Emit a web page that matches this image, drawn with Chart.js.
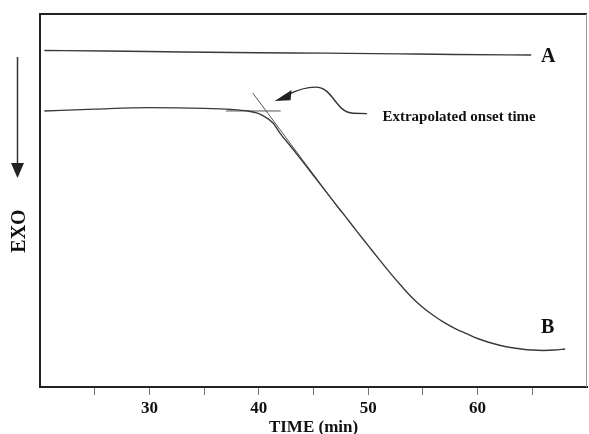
<!DOCTYPE html>
<html lang="en">

<head>
    <meta charset="UTF-8">
    <title>DSC onset</title>
    <style>
        body { margin: 0; background: #fff; }
        .container { width: 589px; height: 434px; }
    </style>
</head>

<body>
    <div class="container">
        <canvas id="dsc-chart" width="589" height="434"></canvas>
    </div>

    <script src="https://cdn.jsdelivr.net/npm/chart.js"></script>
    <script>
        // time (min) and signal (arbitrary units, 0 = bottom, 100 = top)
        var timeA = [20.4, 26, 33, 40, 46, 52.8, 58, 64.9];
        var signalA = [90.2, 90.1, 89.8, 89.6, 89.5, 89.3, 89.15, 89.0];

        var timeB = [20.4, 25, 30, 35, 37.5, 39, 39.8, 40.4, 41.3, 42, 43, 44, 45, 46, 47, 48, 49, 50, 51, 52, 53, 54, 55, 56, 57, 58, 59, 60, 61, 62, 63, 64, 65, 66, 67, 68];
        var signalB = [74.0, 74.5, 74.9, 74.7, 74.4, 74.0, 73.5, 72.7, 70.8, 67.8, 64.2, 60.5, 56.7, 52.9, 49.1, 45.4, 41.6, 37.9, 34.2, 30.6, 27.2, 24.0, 21.3, 19.1, 17.2, 15.6, 14.3, 13.0, 12.0, 11.2, 10.6, 10.2, 9.9, 9.8, 9.9, 10.2];

        // construction lines for the onset
        var tangentTime = [39.45, 47.5];
        var tangentSignal = [78.8, 47.1];
        var baselineTime = [37.0, 42.0];
        var baselineSignal = [74.0, 74.0];

        var tickValues = [25, 30, 35, 40, 45, 50, 55, 60, 65];
        var tickLabels = [30, 40, 50, 60];

        function toPoints(xs, ys) {
            return xs.map(function (x, i) { return { x: x, y: ys[i] }; });
        }

        var serif = "'Liberation Serif', 'DejaVu Serif', serif";

        // frame, labels, arrows
        var decorations = {
            id: 'decorations',
            afterDraw: function (chart) {
                var ctx = chart.ctx;
                var area = chart.chartArea;
                var xs = chart.scales.x;
                var ys = chart.scales.y;
                function px(t) { return xs.getPixelForValue(t); }
                function py(v) { return ys.getPixelForValue(v); }

                ctx.save();
                // top and right of the box
                ctx.strokeStyle = '#222';
                ctx.lineWidth = 2;
                ctx.beginPath();
                ctx.moveTo(area.left, area.top);
                ctx.lineTo(area.right, area.top);
                ctx.stroke();
                ctx.strokeStyle = '#999';
                ctx.lineWidth = 1;
                ctx.beginPath();
                ctx.moveTo(area.right - 0.5, area.top);
                ctx.lineTo(area.right - 0.5, area.bottom);
                ctx.stroke();

                ctx.fillStyle = '#111';
                ctx.font = 'bold 20px ' + serif;
                ctx.textAlign = 'left';
                ctx.textBaseline = 'alphabetic';
                ctx.fillText('A', px(65.8), py(87.1));
                ctx.fillText('B', px(65.8), py(14.5));

                ctx.font = 'bold 15px ' + serif;
                ctx.fillText('Extrapolated onset time', px(51.3), py(71.3));

                // curved pointer to the onset
                ctx.strokeStyle = '#333';
                ctx.lineWidth = 1.4;
                ctx.beginPath();
                ctx.moveTo(px(49.9), py(73.3));
                ctx.lineTo(px(48.6), py(73.4));
                ctx.bezierCurveTo(px(47.0), py(73.6), px(46.8), py(80.4), px(45.2), py(80.4));
                ctx.quadraticCurveTo(px(44.0), py(80.4), px(42.7), py(78.4));
                ctx.stroke();
                ctx.fillStyle = '#222';
                ctx.beginPath();
                ctx.moveTo(px(41.45), py(76.7));
                ctx.lineTo(px(43.0), py(79.6));
                ctx.lineTo(px(42.9), py(76.9));
                ctx.closePath();
                ctx.fill();

                // y axis arrow and label
                ctx.strokeStyle = '#333';
                ctx.lineWidth = 1.5;
                ctx.beginPath();
                ctx.moveTo(17.5, 57);
                ctx.lineTo(17.5, 166);
                ctx.stroke();
                ctx.fillStyle = '#222';
                ctx.beginPath();
                ctx.moveTo(11, 163);
                ctx.lineTo(24, 163);
                ctx.lineTo(17.5, 178);
                ctx.closePath();
                ctx.fill();

                ctx.translate(25, 231);
                ctx.rotate(-Math.PI / 2);
                ctx.fillStyle = '#111';
                ctx.font = 'bold 20px ' + serif;
                ctx.textAlign = 'center';
                ctx.textBaseline = 'alphabetic';
                ctx.fillText('EXO', 0, 0);
                ctx.restore();
            }
        };

        var data = {
            datasets: [{
                label: 'A',
                data: toPoints(timeA, signalA),
                borderColor: '#3a3a3a',
                borderWidth: 1.4,
            }, {
                label: 'B',
                data: toPoints(timeB, signalB),
                borderColor: '#3a3a3a',
                borderWidth: 1.4,
            }, {
                label: 'tangent',
                data: toPoints(tangentTime, tangentSignal),
                borderColor: '#555',
                borderWidth: 1,
                cubicInterpolationMode: 'default',
                tension: 0,
            }, {
                label: 'baseline',
                data: toPoints(baselineTime, baselineSignal),
                borderColor: '#555',
                borderWidth: 1,
                cubicInterpolationMode: 'default',
                tension: 0,
            }]
        };

        var options = {
            responsive: false,
            animation: false,
            layout: { padding: { top: 14, right: 2, left: 0, bottom: 0 } },
            elements: {
                point: { radius: 0 },
                line: { cubicInterpolationMode: 'monotone', fill: false }
            },
            plugins: {
                legend: { display: false },
                tooltip: { enabled: false }
            },
            scales: {
                x: {
                    type: 'linear',
                    min: 20,
                    max: 70,
                    afterBuildTicks: function (scale) {
                        scale.ticks = tickValues.map(function (v) { return { value: v }; });
                    },
                    afterFit: function (scale) { scale.height = 47; },
                    ticks: {
                        autoSkip: false,
                        maxRotation: 0,
                        padding: 3,
                        color: '#111',
                        font: { family: serif, size: 17, weight: 'bold' },
                        callback: function (value) {
                            return tickLabels.indexOf(value) >= 0 ? String(value) : '';
                        }
                    },
                    grid: {
                        display: true,
                        drawOnChartArea: false,
                        drawTicks: true,
                        tickLength: 8,
                        color: '#777',
                        lineWidth: 1
                    },
                    border: { display: true, color: '#222', width: 2 },
                    title: {
                        display: true,
                        text: 'TIME (min)',
                        color: '#111',
                        padding: { top: 0, bottom: 0 },
                        font: { family: serif, size: 17, weight: 'bold', lineHeight: 0.8 }
                    }
                },
                y: {
                    min: 0,
                    max: 100,
                    afterFit: function (scale) { scale.width = 40; },
                    ticks: { display: false },
                    grid: { display: false },
                    border: { display: true, color: '#222', width: 2 }
                }
            }
        };

        var ctx = document.getElementById('dsc-chart').getContext('2d');
        var dscChart = new Chart(ctx, {
            type: 'line',
            data: data,
            options: options,
            plugins: [decorations]
        });
    </script>
</body>

</html>
